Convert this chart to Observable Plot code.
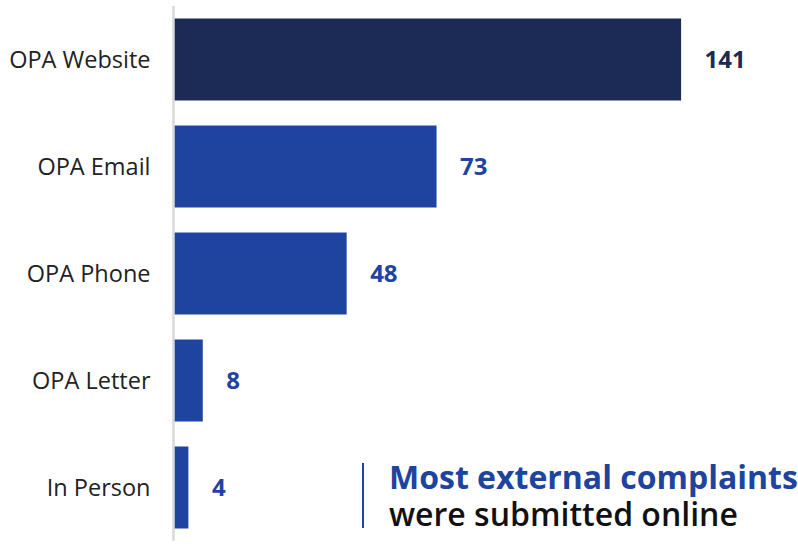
<!DOCTYPE html>
<html>
<head>
<meta charset="utf-8">
<script src="https://cdn.jsdelivr.net/npm/d3@7"></script>
<script src="https://cdn.jsdelivr.net/npm/@observablehq/plot@0.6"></script>
<style>
  html, body { margin: 0; padding: 0; background: #fff; }
  #wrap { position: relative; width: 798px; height: 544px; font-family: "Open Sans", sans-serif; }
  #bar { position: absolute; left: 362px; top: 463px; width: 2px; height: 65px; background: #1e44a0; }
  #note { position: absolute; left: 389px; top: 458px; line-height: 37px; font-size: 32px; white-space: nowrap; }
  #note .l1 { color: #1e44a0; font-weight: 700; }
  #note .l2 { color: #111; font-weight: 600; }
</style>
</head>
<body>
<div id="wrap">
  <div id="chart"></div>
  <div id="bar"></div>
  <div id="note"><div class="l1">Most external complaints</div><div class="l2">were submitted online</div></div>
</div>
<script>
const categories = ["OPA Website", "OPA Email", "OPA Phone", "OPA Letter", "In Person"];
const counts = [141, 73, 48, 8, 4];
const colors = ["#1b2b55", "#1e44a0", "#1e44a0", "#1e44a0", "#1e44a0"];

const data = categories.map((c, i) => ({ category: c, count: counts[i], color: colors[i] }));

const chart = Plot.plot({
  width: 798,
  height: 544,
  marginLeft: 174,
  marginRight: 0,
  marginTop: 6,
  marginBottom: 3,
  style: { fontFamily: "Open Sans, sans-serif", background: "#fff", overflow: "visible" },
  x: { domain: [0, 173.5], axis: null },
  y: { domain: categories, padding: 0, axis: null },
  marks: [
    Plot.barX(data, { y: "category", x: "count", fill: "color", insetTop: 12.5, insetBottom: 12.5 }),
    Plot.ruleX([0], { stroke: "#d9d9d9", strokeWidth: 2.5, dx: -1 }),
    Plot.text(data, { y: "category", x: "count", text: d => String(d.count), fill: "color", textAnchor: "start", dx: 23, fontSize: 24, fontWeight: 700 }),
    Plot.text(data, { y: "category", text: "category", frameAnchor: "left", textAnchor: "end", dx: -24, fontSize: 23.5, fill: "#222" })
  ]
});
document.getElementById("chart").appendChild(chart);
</script>
</body>
</html>
